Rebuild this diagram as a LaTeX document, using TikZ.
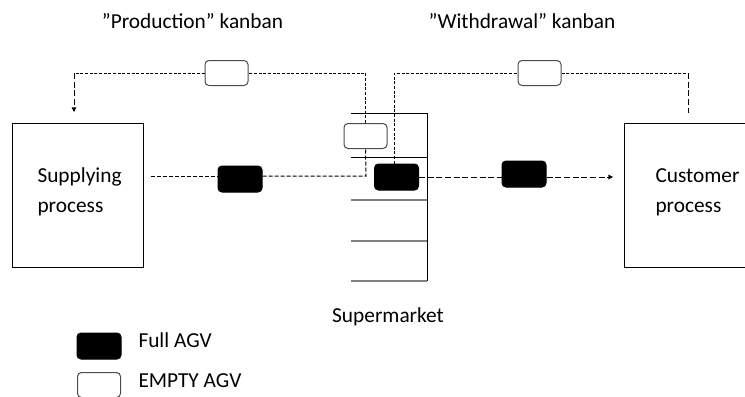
\documentclass[tikz,border=0pt]{standalone}
\usepackage{fontspec}
\setmainfont{Carlito}
\usetikzlibrary{arrows.meta}
\begin{document}
\begin{tikzpicture}[x=0.75pt,y=-0.75pt,
  line width=0.75pt,
  every node/.style={font=\fontsize{16}{22.5}\selectfont},
  txt/.style={inner sep=0pt, align=left},
  procbox/.style={draw=black, fill=white, minimum width=98.25pt, minimum height=108pt, inner sep=0pt},
  agvfull/.style={draw=black, fill=black, rounded corners=3pt, minimum width=33pt, minimum height=19.5pt, inner sep=0pt},
  agvempty/.style={draw=black!70, fill=white, rounded corners=3pt, minimum width=32.25pt, minimum height=18.75pt, inner sep=0pt},
  finedash/.style={dash pattern=on 2.25pt off 1.25pt},
  middash/.style={dash pattern=on 3pt off 1.5pt},
  longdash/.style={dash pattern=on 4.5pt off 2pt},
  tip/.style={-{Triangle[length=3.5pt,width=3.5pt]}},
  shelf/.style={draw=black!50, line width=1pt}
]
\clip (0,0) rectangle (745,396);

% processes (the base anchor sits on the last text line)
\node[procbox] (supply) at (77.5,195) {};
\node[txt, anchor=base west] (supplyText) at (37,212) {Supplying\\process};
\node[procbox, anchor=north west, minimum width=150pt] (customer) at (624,123) {};
\node[txt, anchor=base west] (customerText) at (655,212) {Customer\\process};

% supermarket rack
\coordinate (rackTop) at (427,113);
\coordinate (rackBot) at (427,281);
\draw (rackTop) -- (rackBot);
\draw (351,113) -- (rackTop);
\draw (351,157) -- (427,157);
\draw[shelf] (351,200) -- (427,200);
\draw[shelf] (351,241) -- (427,241);
\draw[shelf] (351,281) -- (rackBot);
\node[txt, anchor=base] (superText) at (388,322) {Supermarket};

% kanban cards in transit
\node[agvempty] (kanbanP) at (226.5,73) {};
\node[agvempty] (kanbanW) at (539.5,73) {};
\node[txt, anchor=base] (titleP) at (192.5,28) {”Production” kanban};
\node[txt, anchor=base] (titleW) at (522,28) {”Withdrawal” kanban};

% AGVs
\node[agvfull] (agvSupply) at (240,179) {};
\node[agvempty] (agvStore) at (365.5,136) {};
\node[agvfull] (agvFull) at (396.5,177) {};
\node[agvfull] (agvMove) at (524,174) {};

% production kanban loop
\coordinate (supplyOut) at (151,176);
\coordinate (storeIn) at (366,176);
\coordinate (prodCorner) at (74,73);
\coordinate (prodEnd) at (74,112);
\draw[middash] (supplyOut) -- (supplyOut -| agvSupply.west);
\draw[middash] (supplyOut -| agvSupply.east) -- (storeIn) -- (agvStore.south);
\draw[finedash] (agvStore.north) |- (kanbanP.east);
\draw[finedash] (kanbanP.west) -- (prodCorner);
\draw[longdash, tip] (prodCorner) -- (prodEnd);

% withdrawal kanban loop
\coordinate (withCorner) at (688,73);
\coordinate (withEnd) at (688,113);
\draw[finedash] (agvFull.north -| 394,0) |- (kanbanW.west);
\draw[finedash] (kanbanW.east) -- (withCorner);
\draw[longdash] (withCorner) -- (withEnd);

% delivery to customer
\coordinate (custIn) at (613,177);
\draw[longdash] (agvFull.east) -- (agvFull.east -| agvMove.west);
\draw[longdash, tip] (agvFull.east -| agvMove.east) -- (custIn);

% legend
\node[agvfull] (legFull) at (99,346) {};
\node[txt, anchor=base west] (legFullText) at (138,347) {Full AGV};
\node[agvempty] (legEmpty) at (99,385) {};
\node[txt, anchor=base west] (legEmptyText) at (138,387) {EMPTY AGV};
\end{tikzpicture}
\end{document}
